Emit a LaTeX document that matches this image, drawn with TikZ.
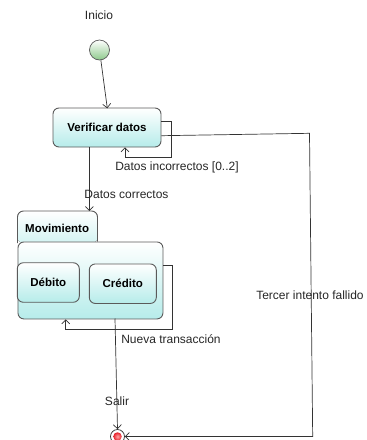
\documentclass[tikz,border=0pt]{standalone}
\usepackage{fontspec}
\setmainfont{Liberation Sans}
\usetikzlibrary{arrows.meta}
\definecolor{stateedge}{HTML}{5A5A5A}
\definecolor{statefill}{HTML}{B6ECEA}
\definecolor{startfill}{HTML}{8DC98B}
\definecolor{endfill}{HTML}{E8202A}
\tikzset{
  state/.style={draw=stateedge, line width=0.9pt, rounded corners=6pt,
    top color=white, bottom color=statefill, font=\fontsize{11.5}{13}\selectfont\bfseries},
  trans/.style={draw=black!80, line width=0.7pt, -{Straight Barb[length=4pt,width=8pt]}},
  lbl/.style={font=\fontsize{12}{14}\selectfont, text=black!85, inner sep=0pt},
}
\begin{document}
\begin{tikzpicture}[x=1pt, y=-1pt]
  \useasboundingbox (0,0) rectangle (367,440);

  % initial and final pseudo-states
  \node[lbl] (inicio) at (99,15) {Inicio};
  \node[circle, draw=stateedge, line width=0.7pt, minimum size=20pt, inner sep=0pt,
        top color=white, bottom color=startfill] (start) at (99.5,50) {};
  \node[circle, draw=black!80, line width=0.7pt, minimum size=14pt, inner sep=0pt, fill=white] (end) at (117.5,436.5) {};
  \node[circle, inner sep=0pt, minimum size=8.5pt, inner color=red!35!white, outer color=endfill] (endcore) at (end.center) {};

  % Verificar datos
  \node[state, minimum width=108pt, minimum height=39pt] (verif) at (107,127.5) {Verificar datos};

  % composite state Movimiento: name tab, then body
  \fill[top color=white, bottom color=statefill!60] [rounded corners=6pt]
    (17.5,243) -- (17.5,211) -- (97.5,211) -- (97.5,243) -- cycle;
  \draw[stateedge, line width=0.9pt] [rounded corners=6pt]
    (17.5,243) -- (17.5,211) -- (97.5,211) -- (97.5,241.5);
  \node[anchor=west, font=\fontsize{11.5}{13}\selectfont\bfseries, inner sep=0pt] (movlbl) at (25,228) {Movimiento};
  \node[state, minimum width=145pt, minimum height=77pt, anchor=north west] (mov) at (17.5,241.5) {};
  \node[state, minimum width=62pt, minimum height=39.5pt] (debito) at (48.3,282.5) {Débito};
  \node[state, minimum width=67pt, minimum height=39.5pt] (credito) at (122.8,283.7) {Crédito};

  % transitions
  \draw[trans] (start) -- (107.3,108.3);

  \coordinate (vl1) at (171.5,121.3);
  \coordinate (vl2) at (171.5,157.3);
  \coordinate (vl3) at (125,157.3);
  \draw[trans] (verif.east |- vl1) -- (vl1) -- (vl2) -- (vl3) -- (verif.south -| vl3);
  \node[lbl] (incorr) at (177,167) {Datos incorrectos [0..2]};

  \coordinate (vc) at (89.3,211);
  \draw[trans] (verif.south -| vc) -- (vc);
  \node[lbl] (corr) at (126.5,194) {Datos correctos};

  \coordinate (ml1) at (172.7,265);
  \coordinate (ml2) at (172.7,329.3);
  \coordinate (ml3) at (65.7,329.3);
  \draw[trans] (mov.east |- ml1) -- (ml1) -- (ml2) -- (ml3) -- (mov.south -| ml3);
  \node[lbl] (nueva) at (171,339.5) {Nueva transacción};

  \coordinate (ms) at (115,318.5);
  \draw[trans] (ms) -- (end.north);
  \node[lbl] (salir) at (117,401.5) {Salir};

  \coordinate (fr1) at (309.5,133.3);
  \coordinate (fr2) at (312.7,436.5);
  \draw[trans] (verif.east |- 0,135.7) -- (fr1) -- (fr2) -- (end.east);
  \node[lbl] (tercer) at (310,295) {Tercer intento fallido};
\end{tikzpicture}
\end{document}
